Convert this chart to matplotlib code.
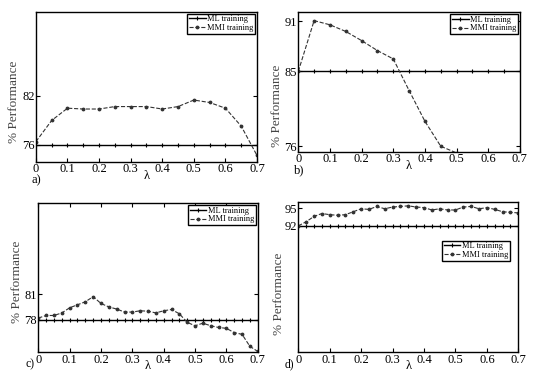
import matplotlib
matplotlib.use("Agg")
import matplotlib.pyplot as plt
import numpy as np

plt.rcParams['font.family'] = ['Liberation Serif', 'DejaVu Serif']

# lambda grids
lam_a = [0, 0.05, 0.1, 0.15, 0.2, 0.25, 0.3, 0.35, 0.4, 0.45, 0.5, 0.55, 0.6, 0.65, 0.7]
lam_b = lam_a
lam_fine = [0, 0.025, 0.05, 0.075, 0.1, 0.125, 0.15, 0.175, 0.2, 0.225, 0.25, 0.275,
            0.3, 0.325, 0.35, 0.375, 0.4, 0.425, 0.45, 0.475, 0.5, 0.525, 0.55, 0.575,
            0.6, 0.625, 0.65, 0.675, 0.7]

# panel a
ml_a = [76] * 15
mmi_a = [76.4, 79.0, 80.5, 80.4, 80.4, 80.7, 80.7, 80.7, 80.4, 80.7, 81.5, 81.2, 80.5, 78.3, 74.7]

# panel b
ml_b = [85] * 15
lam_b_mmi = [0, 0.05, 0.1, 0.15, 0.2, 0.25, 0.3, 0.35, 0.4, 0.45, 0.5]
mmi_b = [85.0, 91.1, 90.6, 89.8, 88.7, 87.5, 86.5, 82.7, 79.0, 76.0, 75.2]

# panel c
ml_c = [78] * 29
mmi_c = [78.2, 78.5, 78.5, 78.8, 79.4, 79.75, 80.1, 80.7, 79.9, 79.5, 79.25, 78.9,
         78.9, 79.05, 79.0, 78.8, 79.05, 79.2, 78.7, 77.7, 77.3, 77.6, 77.3, 77.1,
         77.0, 76.5, 76.3, 74.9, 74.3]

# panel d
ml_d = [92] * 29
mmi_d = [92.0, 92.7, 93.6, 94.1, 93.9, 93.8, 93.9, 94.4, 94.9, 94.8, 95.3, 94.9,
         95.2, 95.3, 95.4, 95.2, 95.1, 94.7, 94.9, 94.7, 94.7, 95.2, 95.3, 94.9,
         95.1, 94.8, 94.4, 94.3, 94.2]

panels = [
    # rect, x_ml, y_ml, x_mmi, y_mmi, ylim, yticks, tag, ylabel pos, legend anchor, top ticks
    ([0.067, 0.5633, 0.4125, 0.4044], lam_a, ml_a, lam_a, mmi_a, (73.9, 92.3), [76, 82], 'a)', (-0.072, 0.40), (1.0, 1.0), False),
    ([0.5565, 0.590, 0.4135, 0.3768], lam_b, ml_b, lam_b_mmi, mmi_b, (75.3, 92.1), [76, 85, 91], 'b)', (-0.068, 0.33), (1.0, 1.0), False),
    ([0.0715, 0.0504, 0.4093, 0.4016], lam_fine, ml_c, lam_fine, mmi_c, (74.2, 91.6), [78, 81], 'c)', (-0.068, 0.47), (1.0, 1.0), True),
    ([0.5565, 0.0504, 0.4105, 0.4043], lam_fine, ml_d, lam_fine, mmi_d, (70.55, 96.0), [92, 95], 'd)', (-0.062, 0.39), (0.97, 0.755), False),
]

fig = plt.figure(figsize=(5.36, 3.71), dpi=100)

for rect, xm, ym, xi, yi, ylim, yt, tag, ylp, anchor, top in panels:
    ax = fig.add_axes(rect)
    ax.plot(xm, ym, color='black', linewidth=1.0, marker='+', markersize=3,
            markeredgewidth=0.8, label='ML training')
    ax.plot(xi, yi, color='#333333', linewidth=0.8, linestyle='--', marker='.',
            markersize=3.5, label='MMI training')
    ax.set_xlim(0, 0.7)
    ax.set_ylim(*ylim)
    ax.set_xticks(np.arange(0, 0.71, 0.1))
    ax.set_xticklabels(['0', '0.1', '0.2', '0.3', '0.4', '0.5', '0.6', '0.7'])
    ax.set_yticks(yt)
    ax.tick_params(direction='in', length=3, width=0.8, labelsize=9, pad=1,
                   top=top, right=True)
    for s in ax.spines.values():
        s.set_linewidth(1.0)
    ax.set_xlabel('λ', fontsize=9, labelpad=-4)
    ax.set_ylabel('% Performance', fontsize=9.5, color='#444444')
    ax.yaxis.set_label_coords(*ylp)
    if rect[1] < 0.1:
        # bottom row: keep tag inside the figure, just left of the "0" label
        fig.text(rect[0] - 0.008, 0.002, tag, fontsize=8.5, va='bottom', ha='right')
    else:
        ax.text(-0.02, -0.085, tag, transform=ax.transAxes, fontsize=9, va='top', ha='left')
    leg = ax.legend(loc='upper right', bbox_to_anchor=anchor, fontsize=6,
                    fancybox=False, framealpha=1, edgecolor='black',
                    handlelength=2.0, handletextpad=0.2, borderpad=0.2,
                    labelspacing=0.1, borderaxespad=0.2)
    leg.get_frame().set_linewidth(1.0)

fig.savefig('out.png', dpi=100)
